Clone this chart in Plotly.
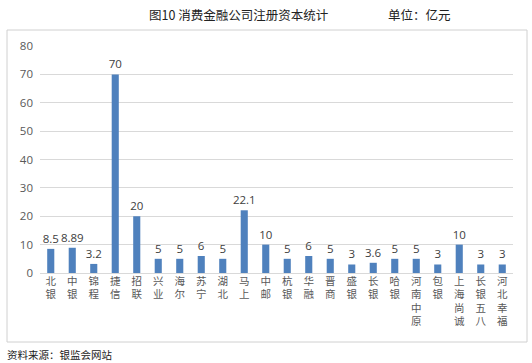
import plotly.graph_objects as go

categories = ["北银", "中银", "锦程", "捷信", "招联", "兴业", "海尔", "苏宁", "湖北", "马上", "中邮",
              "杭银", "华融", "晋商", "盛银", "长银", "哈银", "河南中原", "包银", "上海尚诚", "长银五八", "河北幸福"]
values = [8.5, 8.89, 3.2, 70, 20, 5, 5, 6, 5, 22.1, 10, 5, 6, 5, 3, 3.6, 5, 5, 3, 10, 3, 3]
labels = ["8.5", "8.89", "3.2", "70", "20", "5", "5", "6", "5", "22.1", "10",
          "5", "6", "5", "3", "3.6", "5", "5", "3", "10", "3", "3"]
y_ticks = [0, 10, 20, 30, 40, 50, 60, 70, 80]

title_text = "图10 消费金融公司注册资本统计"
unit_text = "单位：亿元"
source_text = "资料来源：银监会网站"

font_num = "Open Sans, Noto Sans CJK SC, sans-serif"
font_cjk = "Noto Sans CJK SC, sans-serif"

fig = go.Figure(go.Bar(
    x=list(range(len(categories))),
    y=values,
    text=labels,
    textposition="outside",
    constraintext="none",
    cliponaxis=False,
    textfont=dict(family=font_num, size=11.5, color="#404040"),
    marker=dict(color="#4F81BD", line=dict(width=0)),
    width=0.33,
))

W, H = 532, 363
L, R, T, B = 40, 19, 46, 90
pw, ph = W - L - R, H - T - B

def px(x):
    return (x - L) / pw

def py(y):
    return (H - B - y) / ph

fig.update_layout(
    width=W, height=H,
    margin=dict(l=L, r=R, t=T, b=B),
    paper_bgcolor="white", plot_bgcolor="white",
    showlegend=False,
    xaxis=dict(
        tickmode="array",
        tickvals=list(range(len(categories))),
        ticktext=["<br>".join(list(c)) for c in categories],
        tickfont=dict(family=font_cjk, size=10.5, color="#595959"),
        range=[-0.5, len(categories) - 0.5],
        showgrid=False, zeroline=False, showline=False, ticks="",
        tickangle=0,
    ),
    yaxis=dict(
        range=[0, 80],
        tickmode="array", tickvals=y_ticks,
        tickfont=dict(family=font_num, size=11.5, color="#595959"),
        showgrid=True, gridcolor="#d9d9d9", gridwidth=1,
        zeroline=True, zerolinecolor="#d9d9d9", zerolinewidth=1,
        showline=False, ticks="", ticklabelstandoff=6,
    ),
    shapes=[dict(type="rect", xref="paper", yref="paper",
                 x0=px(7), x1=px(527), y0=py(342), y1=py(30),
                 line=dict(color="#d0d0d0", width=1), fillcolor="rgba(0,0,0,0)", layer="below")],
    annotations=[
        dict(text=title_text, xref="paper", yref="paper", x=px(238), y=py(14),
             xanchor="center", yanchor="middle", showarrow=False,
             font=dict(family=font_cjk, size=12.5, color="#222222")),
        dict(text=unit_text, xref="paper", yref="paper", x=px(419), y=py(14),
             xanchor="center", yanchor="middle", showarrow=False,
             font=dict(family=font_cjk, size=12.5, color="#222222")),
        dict(text=source_text, xref="paper", yref="paper", x=px(5), y=py(354),
             xanchor="left", yanchor="middle", showarrow=False,
             font=dict(family=font_cjk, size=10.5, color="#222222")),
    ],
)

fig.write_html("out.html")
